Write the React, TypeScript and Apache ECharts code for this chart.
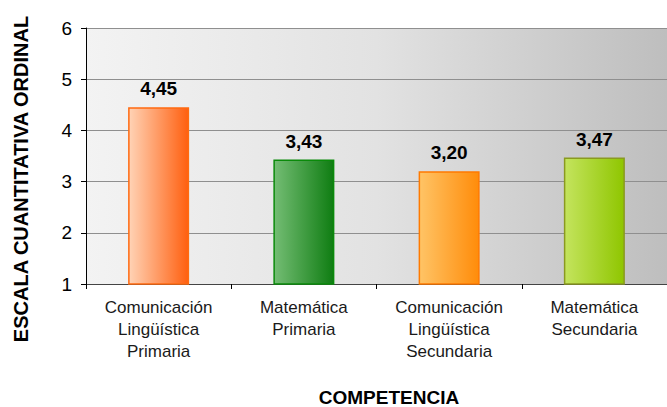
import React, { useEffect, useRef } from "react";
import * as echarts from "echarts";

const categories = [
  "Comunicación\nLingüística\nPrimaria",
  "Matemática\nPrimaria",
  "Comunicación\nLingüística\nSecundaria",
  "Matemática\nSecundaria",
];
const values = [4.45, 3.43, 3.2, 3.47];
const barColors = [
  { from: "#ffd3b6", to: "#ff5f0f", border: "#ff6a10" },
  { from: "#74bd74", to: "#0f7d12", border: "#0a8a0a" },
  { from: "#ffc466", to: "#ff8c0a", border: "#ff7a00" },
  { from: "#c4e45e", to: "#8fc600", border: "#8a9a20" },
];
const yTicks = [1, 2, 3, 4, 5, 6];
const yAxisTitle = "ESCALA CUANTITATIVA ORDINAL";
const xAxisTitle = "COMPETENCIA";

const FONT = "Liberation Sans, Arial, sans-serif";

export default function App() {
  const ref = useRef<HTMLDivElement>(null);
  useEffect(() => {
    const chart = echarts.init(ref.current!, null, { renderer: "svg" });
    chart.setOption({
      animation: false,
      textStyle: { fontFamily: FONT },
      grid: {
        left: 86,
        right: 0,
        top: 28,
        bottom: 123,
        show: true,
        borderWidth: 0,
        backgroundColor: new echarts.graphic.LinearGradient(0, 0, 1, 0, [
          { offset: 0, color: "#f3f3f3" },
          { offset: 0.5, color: "#e2e2e2" },
          { offset: 1, color: "#bebebe" },
        ]),
      },
      xAxis: {
        type: "category",
        data: categories,
        axisLine: { show: true, lineStyle: { color: "#444", width: 1 } },
        axisTick: { show: true, alignWithLabel: false, length: 5, lineStyle: { color: "#000" } },
        axisLabel: {
          color: "#1a1a1a",
          fontSize: 17,
          lineHeight: 22,
          margin: 12,
          interval: 0,
        },
      },
      yAxis: {
        type: "value",
        min: yTicks[0],
        max: yTicks[yTicks.length - 1],
        interval: 1,
        axisLine: { show: true, lineStyle: { color: "#000", width: 1 } },
        axisTick: { show: true, length: 5, lineStyle: { color: "#000" } },
        axisLabel: { color: "#000", fontSize: 19, margin: 14 },
        splitLine: { lineStyle: { color: "#8f8f8f", width: 1 } },
      },
      series: [
        {
          type: "bar",
          barWidth: "42%",
          data: values.map((v, i) => ({
            value: v,
            itemStyle: {
              color: new echarts.graphic.LinearGradient(0, 0, 1, 0, [
                { offset: 0, color: barColors[i].from },
                { offset: 1, color: barColors[i].to },
              ]),
              borderColor: barColors[i].border,
              borderWidth: 1.5,
            },
          })),
          label: {
            show: true,
            position: "top",
            distance: 9,
            fontSize: 19,
            fontWeight: "bold",
            color: "#000",
            formatter: (p: any) => p.value.toFixed(2).replace(".", ","),
          },
        },
      ],
      graphic: [
        {
          type: "text",
          x: 21,
          y: 179,
          rotation: Math.PI / 2,
          style: {
            text: yAxisTitle,
            font: `bold 20px ${FONT}`,
            fill: "#000",
            align: "center",
            verticalAlign: "middle",
          },
        },
        {
          type: "text",
          x: 389,
          y: 397,
          style: {
            text: xAxisTitle,
            font: `bold 19px ${FONT}`,
            fill: "#000",
            align: "center",
            verticalAlign: "middle",
          },
        },
      ],
    });
    return () => chart.dispose();
  }, []);
  return (
    <div
      ref={ref}
      style={{ position: "fixed", left: 0, top: 0, width: 667, height: 407, background: "#fff" }}
    />
  );
}
